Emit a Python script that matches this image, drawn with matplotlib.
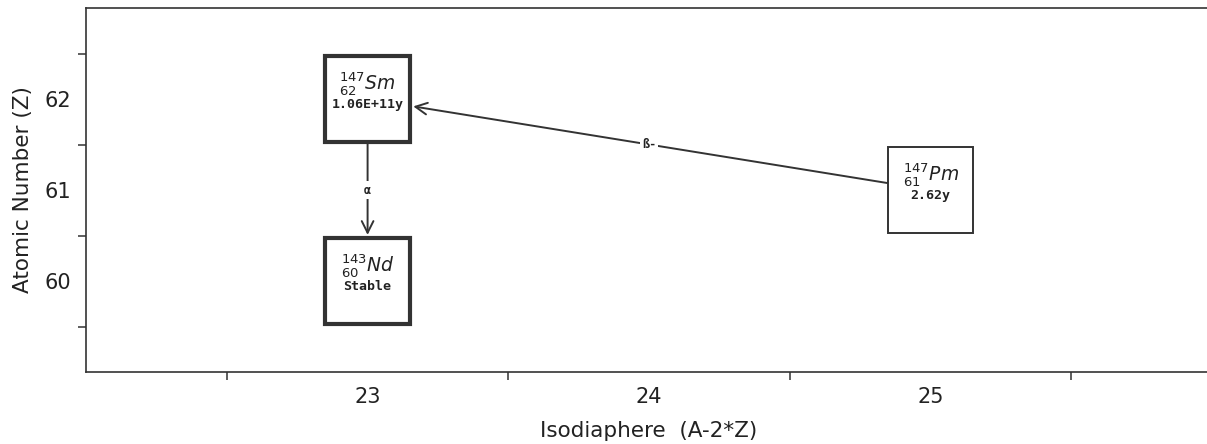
import numpy as np
import matplotlib
matplotlib.use('Agg')
import matplotlib.pyplot as plt
from matplotlib.patches import Rectangle, FancyArrowPatch
from matplotlib.ticker import MultipleLocator, FixedLocator

# nuclides: symbol, mass number A, atomic number Z, half-life in years
symbols = ['Sm', 'Nd', 'Pm']
mass_numbers = [147, 143, 147]
atomic_numbers = [62, 60, 61]
half_lives = [1.06e11, np.inf, 2.62]

# decays: parent index, daughter index, label
decay_parent = [2, 0]
decay_daughter = [0, 1]
decay_labels = ['ß-', 'α']

x_ticks = [23, 24, 25]
y_ticks = [60, 61, 62]


def fmt_half_life(t):
    if np.isinf(t):
        return 'Stable'
    if t >= 1e4:
        return f'{t:.2E}y'
    return f'{t:.2f}y'


xs = [a - 2 * z for a, z in zip(mass_numbers, atomic_numbers)]
ys = atomic_numbers

fig = plt.figure(figsize=(12.07, 4.44), dpi=100)
ax = fig.add_axes([0.0713, 0.162, 0.933, 0.82])
ax.set_xlim(22, 26)
ax.set_ylim(59, 63)

edge = '#333333'
txt = '#222222'
half_w, half_h = 0.152, 0.475
rects = []
for sym, a, z, t, x, y in zip(symbols, mass_numbers, atomic_numbers, half_lives, xs, ys):
    lw = 3.0 if t > 1e9 else 1.4
    r = Rectangle((x - half_w, y - half_h), 2 * half_w, 2 * half_h,
                  facecolor='white', edgecolor=edge, linewidth=lw, zorder=3)
    ax.add_patch(r)
    rects.append(r)
    ax.annotate(r'$^{%d}_{%d}\mathit{%s}$' % (a, z, sym), xy=(x, y), xytext=(0, 1.5),
                textcoords='offset points', ha='center', va='bottom',
                fontsize=13.5, color=txt, zorder=4)
    ax.annotate(fmt_half_life(t), xy=(x, y), xytext=(0, 1.0),
                textcoords='offset points', ha='center', va='top',
                fontsize=9.5, family='DejaVu Sans Mono', fontweight='bold',
                color=txt, zorder=4)

for p, d, lab in zip(decay_parent, decay_daughter, decay_labels):
    arr = FancyArrowPatch((xs[p], ys[p]), (xs[d], ys[d]), patchA=rects[p], patchB=rects[d],
                          arrowstyle='->,head_length=0.6,head_width=0.3', mutation_scale=14,
                          shrinkA=0, shrinkB=1, color=edge, linewidth=1.4, zorder=5)
    ax.add_patch(arr)
    ax.text((xs[p] + xs[d]) / 2, (ys[p] + ys[d]) / 2, lab, ha='center', va='center',
            fontsize=8.5, family='DejaVu Sans Mono', fontweight='bold', color=txt,
            bbox=dict(facecolor='white', edgecolor='none', pad=1.5), zorder=6)

ax.xaxis.set_major_locator(FixedLocator(x_ticks))
ax.yaxis.set_major_locator(FixedLocator(y_ticks))
ax.xaxis.set_minor_locator(MultipleLocator(1, offset=0.5))
ax.yaxis.set_minor_locator(MultipleLocator(1, offset=0.5))
ax.tick_params(which='major', length=0, pad=11, labelsize=15, colors=txt)
ax.tick_params(which='minor', length=6, width=1.1, direction='out', color=edge)

for s in ['top', 'left', 'bottom']:
    ax.spines[s].set_color(edge)
    ax.spines[s].set_linewidth(1.2)
ax.spines['right'].set_visible(False)

ax.set_xlabel('Isodiaphere  (A-2*Z)', fontsize=15.5, labelpad=10, color=txt)
ax.set_ylabel('Atomic Number (Z)', fontsize=15.5, labelpad=8, color=txt)

fig.savefig('out.png', dpi=100)
